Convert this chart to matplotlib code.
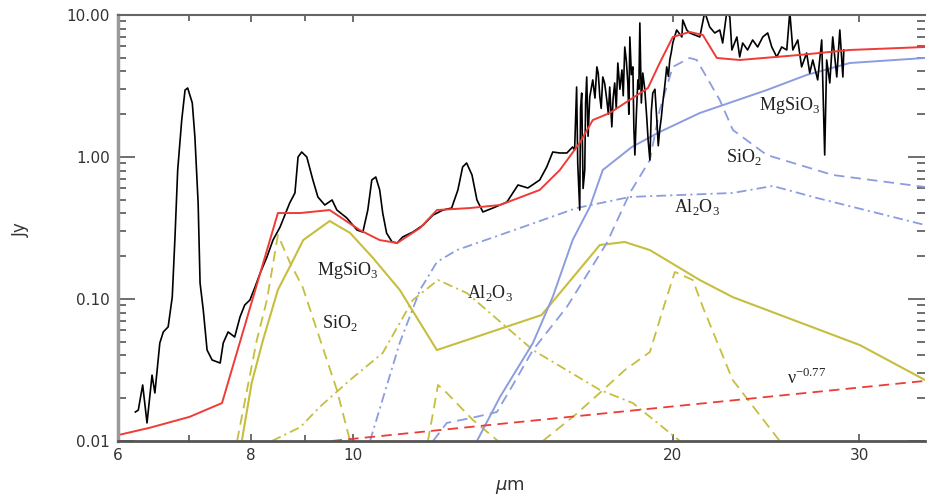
import numpy as np
import matplotlib
matplotlib.use("Agg")
import matplotlib.pyplot as plt
from matplotlib.ticker import FixedLocator, FixedFormatter, NullFormatter

plt.rcParams["lines.scale_dashes"] = False

# observed spectrum (um, Jy)
obs_um = [6.23, 6.27, 6.33, 6.39, 6.46, 6.50, 6.57, 6.62, 6.69, 6.75, 6.79, 6.83, 6.89, 6.94, 6.98,
          7.05, 7.09, 7.14, 7.17, 7.22, 7.28, 7.36, 7.49, 7.54, 7.62, 7.73, 7.82, 7.90, 7.99, 8.08,
          8.17, 8.29, 8.40, 8.53, 8.71, 8.81, 8.87, 8.94, 9.04, 9.16, 9.26, 9.40, 9.55, 9.65, 9.86,
          10.08, 10.21, 10.32, 10.41, 10.50, 10.59, 10.66, 10.75, 10.88, 11.00, 11.13, 11.38, 11.64,
          11.89, 12.15, 12.38, 12.55, 12.68, 12.79, 12.94, 13.08, 13.25, 13.54, 13.96, 14.14, 14.30,
          14.61, 14.99, 15.22, 15.42, 15.66, 15.90,
          16.10, 16.17, 16.24, 16.28, 16.35, 16.38, 16.42, 16.47, 16.53, 16.56, 16.60, 16.65, 16.71,
          16.76, 16.82, 16.90, 16.97, 17.02, 17.08, 17.13, 17.19, 17.26, 17.34, 17.40, 17.45, 17.53,
          17.58, 17.64, 17.70, 17.76, 17.84, 17.92, 17.97, 18.03, 18.09, 18.15, 18.19, 18.23, 18.29,
          18.35, 18.39, 18.43, 18.49, 18.55, 18.59, 18.63, 18.69, 18.75, 18.83, 18.91, 18.97, 19.04,
          19.10, 19.16, 19.25, 19.33, 19.39, 19.45, 19.52, 19.58, 19.66, 19.75, 19.82, 19.88, 19.95,
          20.01, 20.18,
          20.41, 20.45, 20.63, 20.76, 21.22, 21.45, 21.68, 21.92, 22.16, 22.30,
          22.50, 22.65, 22.75, 23.00, 23.14, 23.29, 23.54, 23.80, 24.06, 24.33, 24.59, 24.81, 25.08,
          25.35, 25.63, 25.80, 25.97, 26.25, 26.47, 26.76, 26.94, 27.12, 27.41, 27.65, 27.83, 27.95,
          28.14, 28.32, 28.57, 28.76, 28.95, 29.01]
obs_jy = [0.0160, 0.0165, 0.0248, 0.0134, 0.0291, 0.0218, 0.0490, 0.0586, 0.0636, 0.1035, 0.273,
          0.810, 1.82, 2.96, 3.06, 2.40, 1.383, 0.474, 0.1295, 0.0837, 0.0437, 0.0372, 0.0354, 0.0490,
          0.0586, 0.0540, 0.0748, 0.0907, 0.0984, 0.1218, 0.1524, 0.1972, 0.260, 0.321, 0.474, 0.558,
          1.00, 1.084, 1.00, 0.689, 0.523, 0.459, 0.498, 0.423, 0.372, 0.306, 0.296, 0.423, 0.689,
          0.723, 0.586, 0.403, 0.291, 0.252, 0.248, 0.273, 0.296, 0.332, 0.390, 0.423, 0.437, 0.586,
          0.851, 0.907, 0.747, 0.498, 0.410, 0.437, 0.482, 0.558, 0.635, 0.605, 0.689, 0.851, 1.084,
          1.067, 1.067,
          1.176, 1.12, 3.11, 0.90, 0.423, 2.20, 2.82, 0.60, 0.810, 2.40, 3.66, 1.40, 2.65,
          3.00, 3.49, 2.60, 4.31, 3.90, 2.65, 2.20, 3.66, 3.30, 2.52, 2.00, 3.11, 1.63,
          2.60, 3.32, 2.20, 4.59, 3.00, 4.10, 2.70, 5.95, 4.80, 3.32, 2.00, 7.00, 3.80,
          4.31, 1.60, 1.033, 2.00, 3.49, 3.00, 8.78, 2.40, 3.90, 3.00, 1.91, 1.30, 0.952,
          2.10, 2.82, 3.00, 1.82, 1.20, 1.55, 1.90, 2.40, 3.10, 4.31, 3.70, 4.82, 5.50,
          6.35, 7.84,
          7.00, 9.22, 7.84, 7.47, 7.00, 10.5, 8.23, 7.47, 7.84, 6.35,
          10.5, 9.68, 5.67, 7.00, 5.06, 6.35, 5.67, 6.67, 5.95, 7.00, 7.47, 5.95, 5.06,
          5.95, 5.67, 10.5, 5.67, 6.67, 4.31, 5.40, 3.90, 4.82, 3.49, 6.67, 1.033, 4.82,
          3.32, 7.00, 3.66, 7.84, 3.66, 5.67]

# total model
total_um = [6.00, 6.43, 7.01, 7.52, 8.49, 8.91, 9.50, 10.14, 10.59, 11.00, 11.56, 11.99, 12.88,
            13.75, 14.99, 15.66, 16.35, 16.82, 17.45, 18.96, 19.45, 20.01, 20.76, 21.36, 22.02,
            23.14, 26.36, 29.39, 34.6]
total_jy = [0.0110, 0.0124, 0.0148, 0.0185, 0.403, 0.403, 0.423, 0.306, 0.260, 0.248, 0.316, 0.423,
            0.437, 0.459, 0.586, 0.810, 1.257, 1.82, 2.04, 3.06, 4.59, 7.00, 7.59, 7.23, 4.98, 4.82,
            5.23, 5.67, 5.95]

# power law continuum, nu^-0.77
plaw_um = [9.54, 34.6]
plaw_jy = [0.0100, 0.0265]

# cold dust components (blue)
mg_cold_um = [13.08, 13.75, 14.77, 15.42, 16.10, 16.71, 17.19, 18.31, 19.45, 21.22, 24.54, 26.76,
              29.39, 34.6]
mg_cold_jy = [0.0100, 0.0204, 0.0490, 0.1035, 0.260, 0.444, 0.810, 1.176, 1.50, 2.04, 2.96, 3.78,
              4.59, 4.98]
si_cold_um = [11.89, 12.25, 12.96, 13.66, 14.14, 14.77, 15.90, 17.34, 18.23, 19.04, 19.45, 20.01,
              20.76, 21.08, 22.16, 22.80, 24.54, 28.32, 34.6]
si_cold_jy = [0.0100, 0.0134, 0.0146, 0.0160, 0.0248, 0.0437, 0.0879, 0.248, 0.558, 0.952, 2.14,
              4.31, 4.98, 4.82, 2.52, 1.55, 1.033, 0.747, 0.615]
al_cold_um = [10.37, 11.06, 11.56, 11.99, 12.52, 14.36, 16.24, 18.23, 22.80, 24.86, 27.35, 34.6]
al_cold_jy = [0.0100, 0.0490, 0.116, 0.182, 0.221, 0.316, 0.437, 0.523, 0.558, 0.625, 0.515, 0.332]

# warm dust components (yellow)
mg_warm_um = [7.85, 8.02, 8.22, 8.49, 8.71, 8.97, 9.50, 9.93, 10.44, 11.06, 11.99, 15.05, 17.08,
              18.03, 19.04, 21.22, 22.80, 30.03, 34.6]
mg_warm_jy = [0.0100, 0.0256, 0.0514, 0.116, 0.168, 0.260, 0.354, 0.292, 0.194, 0.116, 0.0437,
              0.0771, 0.240, 0.252, 0.221, 0.136, 0.103, 0.0474, 0.0269]
si_warm_um = [7.77, 7.94, 8.11, 8.29, 8.49, 8.71, 8.96, 9.24, 9.65, 9.93, np.nan,
              11.76, 12.02, 12.25, 12.96, 13.69, np.nan,
              15.09, 16.18, 17.08, 18.03, 19.04, 19.58, 20.10, 20.90, 21.36, 22.79, 25.24]
si_warm_jy = [0.0100, 0.0229, 0.0514, 0.0984, 0.282, 0.182, 0.121, 0.0605, 0.0229, 0.0100, np.nan,
              0.0100, 0.0248, 0.0218, 0.0141, 0.0100, np.nan,
              0.0100, 0.0152, 0.0218, 0.0316, 0.0423, 0.0837, 0.155, 0.136, 0.0878, 0.0269, 0.0100]
al_warm_um = [8.38, 8.91, 9.30, 9.93, 10.66, 11.38, 12.02, 12.80, 14.77, 17.08, 18.35, 20.32]
al_warm_jy = [0.0100, 0.0125, 0.0174, 0.0269, 0.0417, 0.0984, 0.136, 0.110, 0.0437, 0.0229,
              0.0185, 0.0100]

xticks = [6, 8, 10, 20, 30]
xtick_labels = ["6", "8", "10", "20", "30"]
yticks = [0.01, 0.1, 1, 10]
ytick_labels = ["0.01", "0.10", "1.00", "10.00"]

RED = "#ee3b36"
YEL = "#c6be3e"
BLU = "#8c9ce0"
DASH = (0, (7.5, 4.5))
DASHDOT = (0, (7, 3, 1.5, 3))

fig = plt.figure(figsize=(9.3, 4.96), dpi=100)
ax = fig.add_axes([0.1269, 0.1109, 0.8677, 0.8589])
ax.set_xscale("log")
ax.set_yscale("log")

ax.plot(si_warm_um, si_warm_jy, color=YEL, lw=1.3, linestyle=DASH)
ax.plot(al_warm_um, al_warm_jy, color=YEL, lw=1.3, linestyle=DASHDOT)
ax.plot(mg_warm_um, mg_warm_jy, color=YEL, lw=1.5)
ax.plot(si_cold_um, si_cold_jy, color=BLU, lw=1.3, linestyle=DASH)
ax.plot(al_cold_um, al_cold_jy, color=BLU, lw=1.3, linestyle=DASHDOT)
ax.plot(mg_cold_um, mg_cold_jy, color=BLU, lw=1.4)
ax.plot(plaw_um, plaw_jy, color=RED, lw=1.3, linestyle=DASH)
ax.plot(obs_um, obs_jy, color="black", lw=1.2)
ax.plot(total_um, total_jy, color=RED, lw=1.4)

ax.set_xlim(6, 34.6)
ax.set_ylim(0.01, 10)

ax.xaxis.set_major_locator(FixedLocator(xticks))
ax.xaxis.set_major_formatter(FixedFormatter(xtick_labels))
ax.xaxis.set_minor_locator(FixedLocator([7, 9]))
ax.xaxis.set_minor_formatter(NullFormatter())
ax.yaxis.set_major_locator(FixedLocator(yticks))
ax.yaxis.set_major_formatter(FixedFormatter(ytick_labels))

ax.tick_params(axis="both", which="both", direction="in", top=True, right=True,
               colors="#555555", labelcolor="#333333", labelsize=11, width=1.2)
ax.tick_params(axis="y", which="major", length=12, pad=6)
ax.tick_params(axis="y", which="minor", length=6)
ax.tick_params(axis="x", which="major", length=5, pad=5)
ax.tick_params(axis="x", which="minor", length=4)

ax.spines["left"].set_color("#9a9a9a")
ax.spines["left"].set_linewidth(2.5)
ax.spines["bottom"].set_color("#555555")
ax.spines["bottom"].set_linewidth(2)
ax.spines["top"].set_color("#666666")
ax.spines["top"].set_linewidth(1.5)
ax.spines["right"].set_visible(False)

lab = dict(family="Liberation Serif", fontsize=13, color="#222222", ha="center", va="center")
ax.text(9.88, 0.160, r"MgSiO$_\mathregular{3}$", **lab)
ax.text(9.71, 0.0678, r"SiO$_\mathregular{2}$", **lab)
ax.text(13.45, 0.110, r"Al$_\mathregular{2}$O$_\mathregular{3}$", **lab)
ax.text(25.80, 2.32, r"MgSiO$_\mathregular{3}$", **lab)
ax.text(23.34, 1.00, r"SiO$_\mathregular{2}$", **lab)
ax.text(21.08, 0.444, r"Al$_\mathregular{2}$O$_\mathregular{3}$", **lab)
ax.text(26.76, 0.0278, r"ν$^\mathregular{-0.77}$", **lab)

fig.text(0.022, 1 - 230 / 496, "Jy", rotation=90, fontsize=12, color="#333333",
         ha="center", va="center")
fig.text(510 / 930, 1 - 487 / 496, r"$\mu$m", fontsize=13, color="#333333",
         ha="center", va="center")

fig.savefig("out.png", dpi=100)
